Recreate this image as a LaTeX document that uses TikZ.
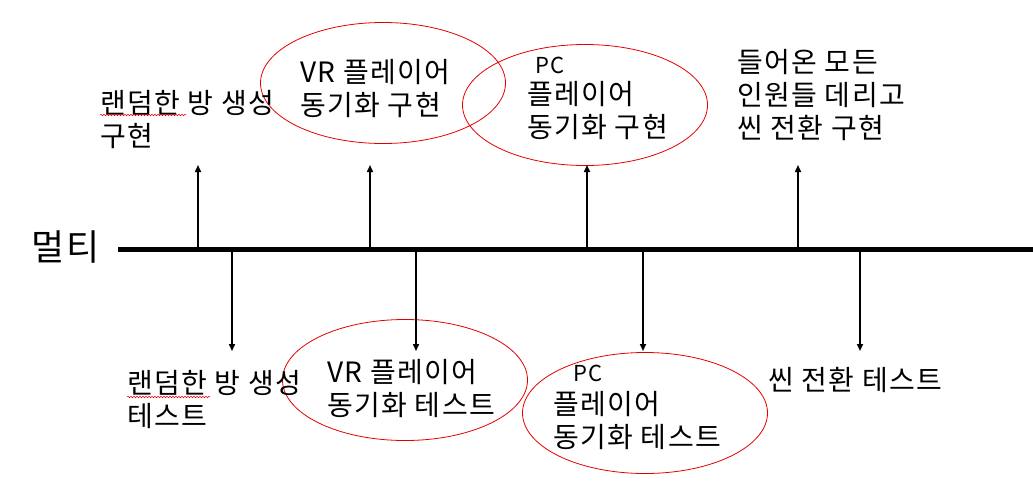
\documentclass[tikz,border=0pt]{standalone}
\usepackage{fontspec}
\setmainfont[LetterSpace=5]{Noto Sans CJK KR}
\usetikzlibrary{arrows.meta, shapes.geometric, decorations.pathmorphing}
\colorlet{ringred}{red!90!black}

\begin{document}
\begin{tikzpicture}[x=1pt, y=-1pt,
    txt/.style={anchor=west, align=left, inner sep=0pt, font=\fontsize{28}{33}\selectfont},
    pctxt/.style={anchor=west, inner sep=0pt, font=\fontsize{22}{24}\selectfont},
    ring/.style={draw=ringred, ellipse, line width=0.8pt, minimum width=245pt, minimum height=121pt, inner sep=0pt},
    stem/.style={line width=1.6pt, -{Triangle[length=7pt, width=6pt]}},
    squiggle/.style={draw=ringred, line width=0.5pt, decorate, decoration={snake, amplitude=0.8pt, segment length=3pt}}]
    \useasboundingbox (0,0) rectangle (1033,488);
    \node[font=\fontsize{36}{40}\selectfont, inner sep=0pt] (multi) at (66,247) {멀티};
    \coordinate (lstart) at (118,249);
    \coordinate (lend) at (1033,249);
    \draw[line width=5pt] (lstart) -- (lend);

    \node[ring] (vrimpl) at (383,83) {};
    \node[ring] (pcimpl) at (585,105) {};
    \node[ring] (vrtest) at (405,380) {};
    \node[ring] (pctest) at (645,413) {};

    \node[txt] (roomimpl) at (100,120) {랜덤한 방 생성\\구현};
    \node[txt] (vrimpltxt) at (300,89) {VR 플레이어\\동기화 구현};
    \node[pctxt] (pcimpltag) at (535,65) {PC};
    \node[txt] (pcimpltxt) at (527,111) {플레이어\\동기화 구현};
    \node[txt] (sceneimpl) at (737,95) {들어온 모든\\인원들 데리고\\씬 전환 구현};

    \node[txt] (roomtest) at (127,400) {랜덤한 방 생성\\테스트};
    \node[txt] (vrtesttxt) at (327,389) {VR 플레이어\\동기화 테스트};
    \node[pctxt] (pctesttag) at (573,373) {PC};
    \node[txt] (pctesttxt) at (553,421) {플레이어\\동기화 테스트};
    \node[txt] (scenetest) at (768,380) {씬 전환 테스트};

    \draw[squiggle] (100,115) -- (186,115);
    \draw[squiggle] (127,397) -- (210,397);

    \foreach \n/\x in {up1/198, up2/370, up3/587, up4/798} {
      \coordinate (\n) at (\x,249);
      \coordinate (\n tip) at (\x,165);
      \draw[stem] (\n) -- (\n tip);
    }
    \foreach \n/\x in {dn1/232, dn2/416, dn3/643, dn4/860} {
      \coordinate (\n) at (\x,249);
      \coordinate (\n tip) at (\x,351);
      \draw[stem] (\n) -- (\n tip);
    }
\end{tikzpicture}
\end{document}
